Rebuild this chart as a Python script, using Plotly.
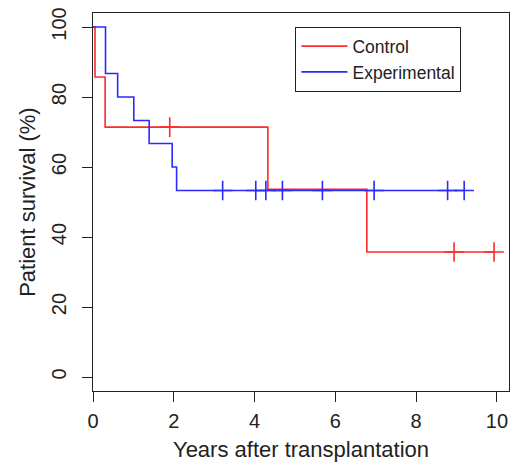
import plotly.graph_objects as go

# Kaplan-Meier step data (years, survival %)
control_time = [0, 0.05, 0.30, 4.33, 6.78, 9.93]
control_surv = [100, 85.7, 71.4, 53.6, 35.7, 35.7]
control_censor = [1.90, 8.94, 9.93]

exp_time = [0, 0.31, 0.61, 1.01, 1.39, 1.96, 2.07, 9.19]
exp_surv = [100, 86.7, 80.0, 73.3, 66.7, 60.0, 53.3, 53.3]
exp_censor = [3.21, 4.03, 4.28, 4.69, 5.68, 6.96, 8.78, 9.19]

x_ticks = [0, 2, 4, 6, 8, 10]
y_ticks = [0, 20, 40, 60, 80, 100]


def step_at(times, surv, t):
    val = surv[0]
    for ti, si in zip(times, surv):
        if ti <= t:
            val = si
    return val


RED = "#ff2a2a"
BLUE = "#2a2aff"
FONT = "Liberation Sans, Arial, sans-serif"

fig = go.Figure()
fig.add_trace(go.Scatter(x=control_time, y=control_surv, mode="lines",
                         line=dict(color=RED, width=1.6, shape="hv"),
                         name="Control"))
fig.add_trace(go.Scatter(x=exp_time, y=exp_surv, mode="lines",
                         line=dict(color=BLUE, width=1.6, shape="hv"),
                         name="Experimental"))
fig.add_trace(go.Scatter(x=control_censor,
                         y=[step_at(control_time, control_surv, t) for t in control_censor],
                         mode="markers", showlegend=False,
                         marker=dict(symbol="cross-thin", size=14,
                                     line=dict(color=RED, width=1.6))))
fig.add_trace(go.Scatter(x=exp_censor,
                         y=[step_at(exp_time, exp_surv, t) for t in exp_censor],
                         mode="markers", showlegend=False,
                         marker=dict(symbol="cross-thin", size=14,
                                     line=dict(color=BLUE, width=1.6))))

axis_common = dict(showline=True, linecolor="#222", linewidth=1.3, mirror=True,
                   ticks="outside", ticklen=10, tickwidth=1.3, tickcolor="#222",
                   showgrid=False, zeroline=False, automargin=False,
                   tickfont=dict(family=FONT, size=20, color="#222"))

fig.update_layout(
    width=511, height=463,
    margin=dict(l=93, r=2, t=13, b=72),
    paper_bgcolor="white", plot_bgcolor="white",
    font=dict(family=FONT, color="#222"),
    xaxis=dict(range=[0, 10.3], tickvals=x_ticks, ticklabelstandoff=2,
               title=dict(text="Years after transplantation", standoff=10,
                          font=dict(family=FONT, size=22, color="#222")),
               **axis_common),
    yaxis=dict(range=[-4, 104], tickvals=y_ticks, tickangle=-90,
               ticklabelstandoff=8, **axis_common),
    legend=dict(x=0.486, y=0.963, xanchor="left", yanchor="top",
                bordercolor="#222", borderwidth=1.3, bgcolor="white",
                font=dict(family=FONT, size=17.5, color="#222"),
                tracegroupgap=0, itemwidth=46),
    showlegend=True,
    annotations=[dict(text="Patient survival (%)", textangle=-90,
                      xref="paper", yref="paper", x=-0.159, y=0.5,
                      xanchor="center", yanchor="middle", showarrow=False,
                      font=dict(family=FONT, size=22, color="#222"))],
)

fig.write_html("out.html", config={"displayModeBar": False},
               post_script="document.body.style.margin='0';document.body.style.padding='0';")
